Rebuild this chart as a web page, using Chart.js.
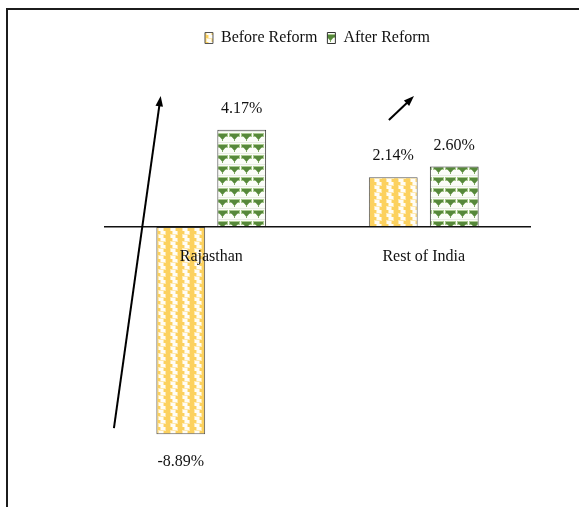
<!DOCTYPE html>
<html>
<head>
<meta charset="utf-8">
<script src="https://cdn.jsdelivr.net/npm/chart.js@4.4.0/dist/chart.umd.min.js"></script>
<style>
  body { margin: 0; background: #fff; }
  #wrap { width: 579px; height: 507px; }
</style>
</head>
<body>
<div id="wrap"><canvas id="chart" width="579" height="507"></canvas></div>
<script>
//Categories and series
const regions = ["Rajasthan", "Rest of India"];
const seriesNames = ["Before Reform", "After Reform"];
const beforeReform = [-8.89, 2.14];
const afterReform = [4.17, 2.60];
//Arrows in data space: [from index, from value, to index, to value]
const arrows = [
  [-0.458, -8.63, -0.238, 5.62],
  [0.836, 4.59, 0.954, 5.62]
];

const serif = "'Liberation Serif', 'Times New Roman', serif";

//small canvas tiles used as bar fills
function makePattern(w, h, draw) {
  const c = document.createElement("canvas");
  c.width = w;
  c.height = h;
  const g = c.getContext("2d");
  draw(g);
  return g.createPattern(c, "repeat");
}

const yellowFill = makePattern(12, 7, (g) => {
  g.fillStyle = "#fcd15e";
  g.fillRect(0, 0, 12, 7);
  g.fillStyle = "#fee9b0";
  g.fillRect(4, 0, 6, 4);
  g.fillRect(2, 3, 6, 4);
  g.fillStyle = "#fffdf6";
  g.fillRect(5, 0, 4, 3);
  g.fillRect(3, 4, 4, 3);
});

const greenFill = makePattern(12, 11, (g) => {
  g.fillStyle = "#fbfdf8";
  g.fillRect(0, 0, 12, 11);
  g.fillStyle = "#a9c98e";
  g.fillRect(1, 1, 11, 4);
  g.fillStyle = "#56883a";
  g.fillRect(2, 2, 9, 2);
  g.beginPath();
  g.moveTo(3, 4);
  g.lineTo(10, 4);
  g.lineTo(6.5, 8);
  g.closePath();
  g.fill();
  g.fillStyle = "#7ea860";
  g.fillRect(6, 7, 1, 2);
  g.fillStyle = "#e6ebe1";
  g.fillRect(0, 10, 12, 1);
});

//outer frame (top and left edges only, picture is cropped)
const framePlugin = {
  id: "frame",
  beforeDraw(chart) {
    const ctx = chart.ctx;
    ctx.save();
    ctx.strokeStyle = "#1c1c1c";
    ctx.lineWidth = 2;
    ctx.beginPath();
    ctx.moveTo(579, 9);
    ctx.lineTo(7, 9);
    ctx.lineTo(7, 507);
    ctx.stroke();
    ctx.restore();
  }
};

//value labels above / below each bar
const valueLabels = {
  id: "valueLabels",
  afterDatasetsDraw(chart) {
    const ctx = chart.ctx;
    ctx.save();
    ctx.font = "16px " + serif;
    ctx.fillStyle = "#111";
    ctx.textAlign = "center";
    ctx.textBaseline = "middle";
    chart.data.datasets.forEach((ds, di) => {
      chart.getDatasetMeta(di).data.forEach((bar, i) => {
        const v = ds.data[i];
        const y = v >= 0 ? bar.y - 21 : bar.y + 28;
        ctx.fillText(v.toFixed(2) + "%", bar.x, y);
      });
    });
    ctx.restore();
  }
};

//trend arrows
const arrowPlugin = {
  id: "arrows",
  afterDraw(chart) {
    const ctx = chart.ctx;
    const xs = chart.scales.x;
    const ys = chart.scales.y;
    ctx.save();
    ctx.strokeStyle = "#000";
    ctx.fillStyle = "#000";
    ctx.lineWidth = 2;
    arrows.forEach(([x0, y0, x1, y1]) => {
      const ax = xs.getPixelForValue(x0), ay = ys.getPixelForValue(y0);
      const bx = xs.getPixelForValue(x1), by = ys.getPixelForValue(y1);
      const ang = Math.atan2(by - ay, bx - ax);
      const head = 11;
      ctx.beginPath();
      ctx.moveTo(ax, ay);
      ctx.lineTo(bx - Math.cos(ang) * head * 0.8, by - Math.sin(ang) * head * 0.8);
      ctx.stroke();
      ctx.beginPath();
      ctx.moveTo(bx, by);
      ctx.lineTo(bx - head * Math.cos(ang - 0.35), by - head * Math.sin(ang - 0.35));
      ctx.lineTo(bx - head * Math.cos(ang + 0.35), by - head * Math.sin(ang + 0.35));
      ctx.closePath();
      ctx.fill();
    });
    ctx.restore();
  }
};

new Chart(document.getElementById("chart"), {
  type: "bar",
  plugins: [framePlugin, valueLabels, arrowPlugin],
  data: {
    labels: regions,
    datasets: [
      {
        label: seriesNames[0],
        data: beforeReform,
        backgroundColor: yellowFill,
        borderColor: "#555",
        borderWidth: 1,
        borderSkipped: false
      },
      {
        label: seriesNames[1],
        data: afterReform,
        backgroundColor: greenFill,
        borderColor: "#333",
        borderWidth: 1,
        borderSkipped: false
      }
    ]
  },
  options: {
    responsive: false,
    animation: false,
    layout: { padding: { top: 20, left: 105, right: 49, bottom: 47 } },
    datasets: {
      bar: { categoryPercentage: 0.574, barPercentage: 0.8 }
    },
    plugins: {
      tooltip: { enabled: false },
      legend: {
        display: true,
        position: "top",
        labels: {
          boxWidth: 8,
          boxHeight: 11,
          padding: 10,
          color: "#111",
          font: { family: serif, size: 16 }
        }
      }
    },
    scales: {
      x: {
        position: { y: 0 },
        afterFit(scale) { scale.height = 0; },
        grid: { display: false, drawTicks: false },
        border: { display: true, color: "#111", width: 1.5, z: 1 },
        ticks: {
          z: 1,
          padding: 20,
          color: "#111",
          font: { family: serif, size: 16 }
        }
      },
      y: {
        display: false,
        min: -10,
        max: 7.34
      }
    }
  }
});
</script>
</body>
</html>
